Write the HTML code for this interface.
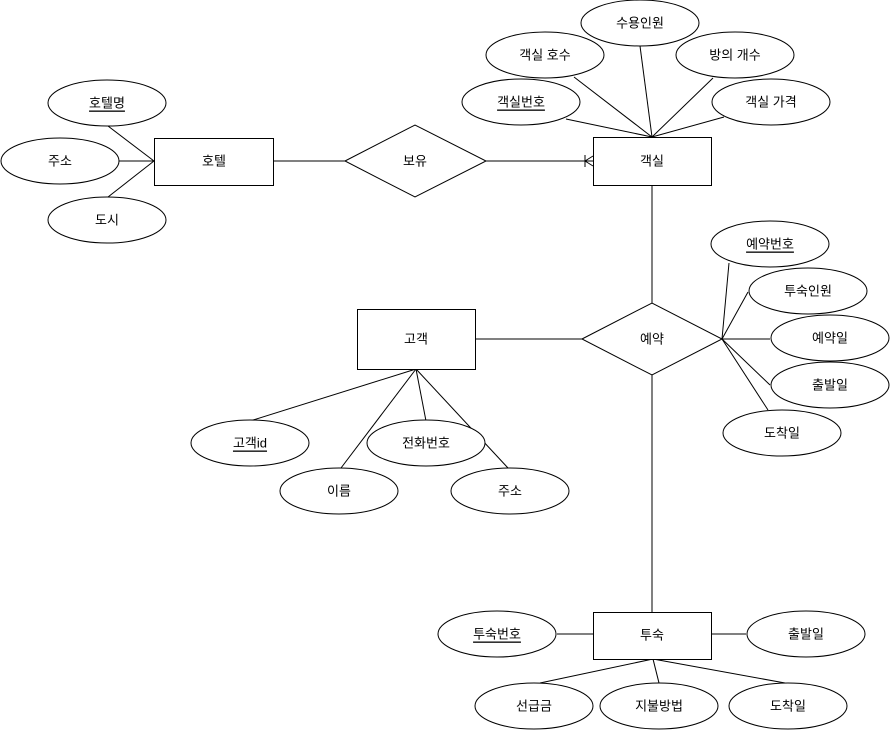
<!DOCTYPE html>
<html><head><meta charset="utf-8"><style>
html,body{margin:0;padding:0;background:#fff;}
svg text{font-family:"Liberation Sans","Noto Sans CJK KR",sans-serif;font-size:13px;fill:#000;text-anchor:middle;dominant-baseline:central;}
</style></head><body>
<svg width="890" height="732" viewBox="0 0 890 732" xmlns="http://www.w3.org/2000/svg">
<g stroke="#000" stroke-width="1" fill="none">
<!-- hotel lines -->
<line x1="108" y1="126" x2="154" y2="161"/>
<line x1="119" y1="161" x2="154" y2="161"/>
<line x1="108" y1="197" x2="154" y2="161"/>
<line x1="273" y1="161" x2="345" y2="161"/>
<line x1="486" y1="161" x2="593" y2="161"/>
<line x1="585" y1="155" x2="585" y2="167"/>
<line x1="593" y1="156" x2="585" y2="161"/>
<line x1="593" y1="166" x2="585" y2="161"/>
<!-- room attr lines -->
<line x1="566" y1="119" x2="652" y2="137"/>
<line x1="574" y1="77" x2="652" y2="137"/>
<line x1="640" y1="46" x2="652" y2="137"/>
<line x1="713" y1="78" x2="652" y2="137"/>
<line x1="724" y1="117" x2="652" y2="137"/>
<line x1="652" y1="185" x2="652" y2="303"/>
<line x1="475" y1="339" x2="582" y2="339"/>
<!-- reservation attrs -->
<line x1="729" y1="263" x2="722" y2="339"/>
<line x1="748" y1="292" x2="722" y2="339"/>
<line x1="770" y1="339" x2="722" y2="339"/>
<line x1="770" y1="385" x2="722" y2="339"/>
<line x1="768" y1="410" x2="722" y2="339"/>
<line x1="652" y1="375" x2="652" y2="612"/>
<!-- customer attrs -->
<line x1="416" y1="369" x2="250" y2="421"/>
<line x1="416" y1="369" x2="341" y2="468"/>
<line x1="416" y1="369" x2="426" y2="421"/>
<line x1="416" y1="369" x2="508" y2="468"/>
<!-- stay attrs -->
<line x1="557" y1="634" x2="593" y2="634"/>
<line x1="711" y1="634" x2="746" y2="634"/>
<line x1="653" y1="659" x2="540" y2="683"/>
<line x1="653" y1="659" x2="659" y2="683"/>
<line x1="653" y1="659" x2="785" y2="683"/>
</g>
<g stroke="#000" stroke-width="1" fill="#fff">
<rect x="154.5" y="138.5" width="119" height="47"/>
<rect x="593.5" y="137.5" width="118" height="48"/>
<rect x="357.5" y="309.5" width="118" height="60"/>
<rect x="593.5" y="612.5" width="118" height="47"/>
<polygon points="345,161 415,125 486,161 415,197"/>
<polygon points="582,339 652,303 722,339 652,375"/>
<ellipse cx="107" cy="103" rx="59" ry="23"/>
<ellipse cx="60" cy="161" rx="59" ry="23"/>
<ellipse cx="107" cy="220" rx="59" ry="23"/>
<ellipse cx="640" cy="23" rx="59" ry="23"/>
<ellipse cx="545" cy="55" rx="59" ry="23"/>
<ellipse cx="735" cy="55" rx="59" ry="23"/>
<ellipse cx="521" cy="102" rx="59" ry="23"/>
<ellipse cx="771" cy="102" rx="59" ry="23"/>
<ellipse cx="770" cy="244" rx="59" ry="23"/>
<ellipse cx="808" cy="291" rx="59" ry="23"/>
<ellipse cx="830" cy="338" rx="59" ry="23"/>
<ellipse cx="830" cy="385" rx="59" ry="23"/>
<ellipse cx="782" cy="433" rx="59" ry="23"/>
<ellipse cx="250" cy="443" rx="59" ry="23"/>
<ellipse cx="339" cy="491" rx="59" ry="23"/>
<ellipse cx="426" cy="443" rx="59" ry="23"/>
<ellipse cx="510" cy="491" rx="59" ry="23"/>
<ellipse cx="497" cy="634" rx="59" ry="23"/>
<ellipse cx="806" cy="634" rx="59" ry="23"/>
<ellipse cx="534" cy="706" rx="59" ry="23"/>
<ellipse cx="659" cy="706" rx="59" ry="23"/>
<ellipse cx="788" cy="706" rx="59" ry="23"/>
</g>
<text x="214" y="161">호텔</text>
<text x="652" y="161">객실</text>
<text x="416" y="339">고객</text>
<text x="652" y="635">투숙</text>
<text x="415" y="161">보유</text>
<text x="652" y="339">예약</text>
<text x="107" y="103" text-decoration="underline">호텔명</text>
<text x="60" y="161">주소</text>
<text x="107" y="220">도시</text>
<text x="640" y="23">수용인원</text>
<text x="545" y="55">객실 호수</text>
<text x="735" y="55">방의 개수</text>
<text x="521" y="102" text-decoration="underline">객실번호</text>
<text x="771" y="102">객실 가격</text>
<text x="770" y="244" text-decoration="underline">예약번호</text>
<text x="808" y="291">투숙인원</text>
<text x="830" y="338">예약일</text>
<text x="830" y="385">출발일</text>
<text x="782" y="433">도착일</text>
<text x="250" y="443" text-decoration="underline">고객id</text>
<text x="339" y="491">이름</text>
<text x="426" y="443">전화번호</text>
<text x="510" y="491">주소</text>
<text x="497" y="634" text-decoration="underline">투숙번호</text>
<text x="806" y="634">출발일</text>
<text x="534" y="706">선급금</text>
<text x="659" y="706">지불방법</text>
<text x="788" y="706">도착일</text>
</svg>
</body></html>
